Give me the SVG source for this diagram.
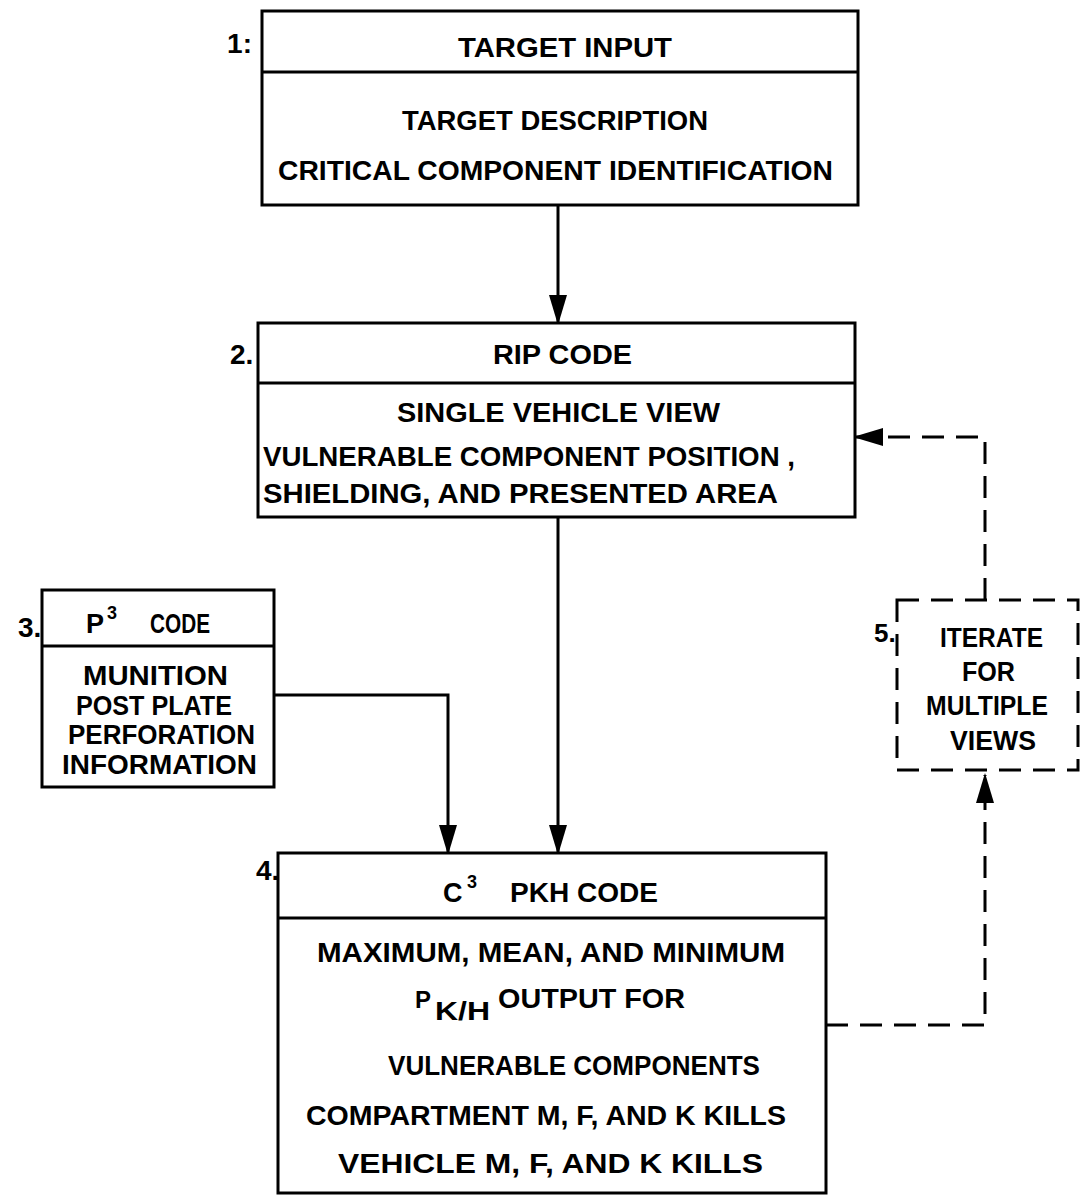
<svg xmlns="http://www.w3.org/2000/svg" width="1086" height="1197" viewBox="0 0 1086 1197">
  <style>
    .box { fill: #fff; stroke: #000; stroke-width: 3; }
    .div { stroke: #000; stroke-width: 3; }
    .dbox { fill: none; stroke: #000; stroke-width: 3; stroke-dasharray: 22 12; }
    .t { font-family: "Liberation Sans", Arial, sans-serif; font-weight: bold; font-size: 27px; fill: #000; }
    .n { font-family: "Liberation Sans", Arial, sans-serif; font-weight: bold; font-size: 28px; fill: #000; }
    .sup { font-family: "Liberation Sans", Arial, sans-serif; font-weight: bold; font-size: 18px; fill: #000; }
    .wire { fill: none; stroke: #000; stroke-width: 3; }
    .dash { fill: none; stroke: #000; stroke-width: 3; stroke-dasharray: 22 12; }
  </style>
  <defs>
    <marker id="head" markerUnits="userSpaceOnUse" viewBox="0 -9 30 18" refX="28" refY="0" markerWidth="30" markerHeight="18" orient="auto">
      <path d="M0,-9 L30,0 L0,9 z" fill="#000"/>
    </marker>
  </defs>
  <rect width="1086" height="1197" fill="#fff"/>

  <!-- connectors -->
  <g id="connectors">
    <path class="wire" d="M558,205 V323" marker-end="url(#head)"/>
    <path class="wire" d="M558,517 V853" marker-end="url(#head)"/>
    <path class="wire" d="M274,695 H448 V853" marker-end="url(#head)"/>
    <path class="dash" d="M826,1025 H985 V775" marker-end="url(#head)"/>
    <path class="dash" d="M985,600 V437 H855" marker-end="url(#head)"/>
  </g>

  <!-- 1: target input -->
  <g id="node1">
    <rect class="box" x="262" y="11" width="596" height="194"/>
    <line class="div" x1="262" y1="72" x2="858" y2="72"/>
    <text class="n" x="252" y="53" text-anchor="end">1:</text>
    <text class="t" x="458" y="57" textLength="214" lengthAdjust="spacingAndGlyphs">TARGET  INPUT</text>
    <text class="t" x="402" y="130" textLength="306" lengthAdjust="spacingAndGlyphs">TARGET  DESCRIPTION</text>
    <text class="t" x="278" y="180" textLength="555" lengthAdjust="spacingAndGlyphs">CRITICAL  COMPONENT  IDENTIFICATION</text>
  </g>

  <!-- 2: RIP code -->
  <g id="node2">
    <rect class="box" x="258" y="323" width="597" height="194"/>
    <line class="div" x1="258" y1="383" x2="855" y2="383"/>
    <text class="n" x="230" y="364">2.</text>
    <text class="t" x="493" y="364" textLength="139" lengthAdjust="spacingAndGlyphs">RIP  CODE</text>
    <text class="t" x="397" y="422" textLength="323" lengthAdjust="spacingAndGlyphs">SINGLE  VEHICLE  VIEW</text>
    <text class="t" x="263" y="466" textLength="532" lengthAdjust="spacingAndGlyphs">VULNERABLE  COMPONENT  POSITION ,</text>
    <text class="t" x="263" y="503" textLength="515" lengthAdjust="spacingAndGlyphs">SHIELDING,  AND  PRESENTED  AREA</text>
  </g>

  <!-- 3: P3 code -->
  <g id="node3">
    <rect class="box" x="42" y="590" width="232" height="197"/>
    <line class="div" x1="42" y1="646" x2="274" y2="646"/>
    <text class="n" x="18" y="637">3.</text>
    <text class="t" x="86" y="633">P</text>
    <text class="sup" x="107" y="619">3</text>
    <text class="t" x="150" y="633" textLength="60" lengthAdjust="spacingAndGlyphs">CODE</text>
    <text class="t" x="83" y="685" textLength="145" lengthAdjust="spacingAndGlyphs">MUNITION</text>
    <text class="t" x="76" y="715" textLength="156" lengthAdjust="spacingAndGlyphs">POST  PLATE</text>
    <text class="t" x="68" y="744" textLength="187" lengthAdjust="spacingAndGlyphs">PERFORATION</text>
    <text class="t" x="62" y="774" textLength="195" lengthAdjust="spacingAndGlyphs">INFORMATION</text>
  </g>

  <!-- 4: C3 PKH code -->
  <g id="node4">
    <rect class="box" x="278" y="853" width="548" height="340"/>
    <line class="div" x1="278" y1="918" x2="826" y2="918"/>
    <text class="n" x="256" y="880">4.</text>
    <text class="t" x="443" y="902">C</text>
    <text class="sup" x="467" y="888">3</text>
    <text class="t" x="510" y="902" textLength="148" lengthAdjust="spacingAndGlyphs">PKH  CODE</text>
    <text class="t" x="317" y="962" textLength="468" lengthAdjust="spacingAndGlyphs">MAXIMUM,  MEAN,  AND  MINIMUM</text>
    <text class="t" x="415" y="1008" style="font-size:24px">P</text>
    <text class="t" x="435" y="1020" style="font-size:26px" textLength="55" lengthAdjust="spacingAndGlyphs">K/H</text>
    <text class="t" x="498" y="1008" textLength="187" lengthAdjust="spacingAndGlyphs">OUTPUT  FOR</text>
    <text class="t" x="388" y="1075" textLength="372" lengthAdjust="spacingAndGlyphs">VULNERABLE  COMPONENTS</text>
    <text class="t" x="306" y="1125" textLength="480" lengthAdjust="spacingAndGlyphs">COMPARTMENT  M,  F,  AND  K  KILLS</text>
    <text class="t" x="338" y="1173" textLength="425" lengthAdjust="spacingAndGlyphs">VEHICLE  M,  F,  AND  K  KILLS</text>
  </g>

  <!-- 5: iterate loop -->
  <g id="node5">
    <rect class="dbox" x="897" y="600" width="181" height="170"/>
    <text class="n" x="874" y="642" style="font-size:26px">5.</text>
    <text class="t" x="940" y="647" textLength="103" lengthAdjust="spacingAndGlyphs">ITERATE</text>
    <text class="t" x="962" y="681" textLength="53" lengthAdjust="spacingAndGlyphs">FOR</text>
    <text class="t" x="926" y="715" textLength="122" lengthAdjust="spacingAndGlyphs">MULTIPLE</text>
    <text class="t" x="950" y="750" textLength="86" lengthAdjust="spacingAndGlyphs">VIEWS</text>
  </g>
</svg>
